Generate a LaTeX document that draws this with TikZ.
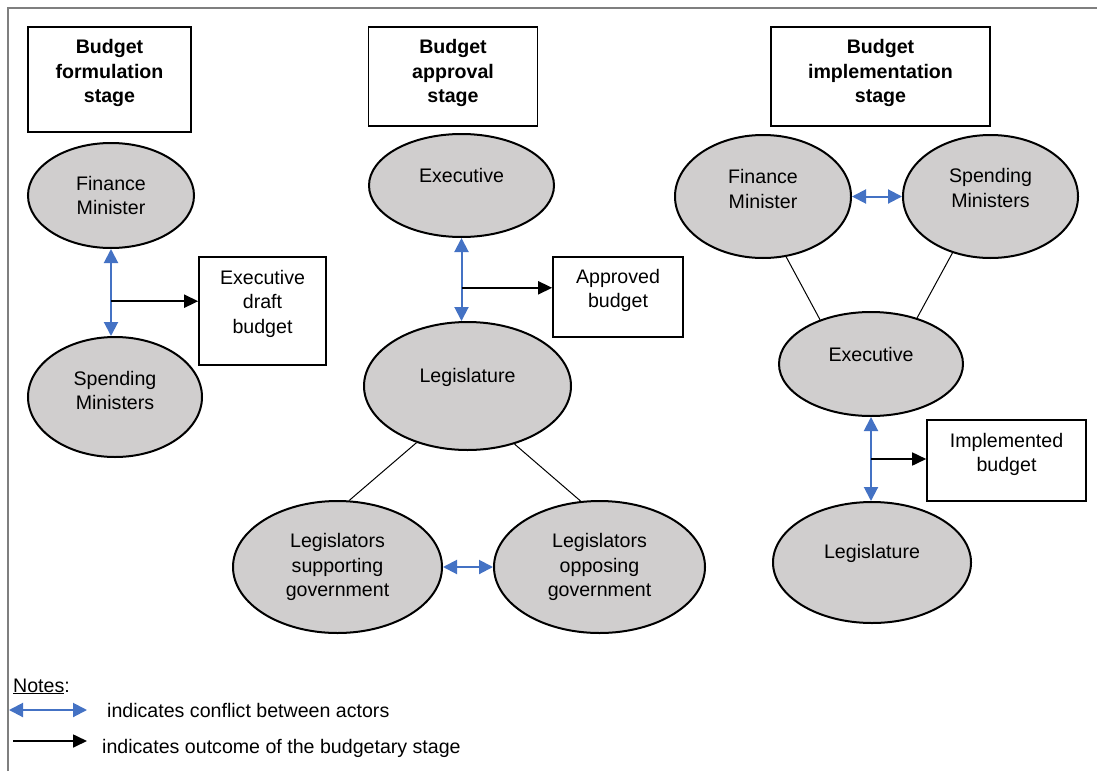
\documentclass[tikz,border=0pt]{standalone}
\usepackage{fontspec}
\setmainfont{Liberation Sans}
\usepackage[]{xcolor}
\usetikzlibrary{shapes.geometric, arrows.meta, positioning}

\definecolor{actorgray}{HTML}{D0CECE}
\definecolor{conflictblue}{HTML}{4472C4}
\definecolor{framegray}{HTML}{7F7F7F}

\begin{document}
\begin{tikzpicture}[
            x=1pt, y=-1pt,
            font=\fontsize{19.6}{24.5}\selectfont,
            stage/.style={rectangle, draw, line width=1.6pt, align=center, font=\fontsize{19.6}{24.5}\selectfont\bfseries},
            actor/.style={ellipse, draw, line width=2pt, fill=actorgray, align=center, inner sep=0pt},
            result/.style={rectangle, draw, line width=1.6pt, align=center},
            lift/.style={text depth=#1},
            conflict/.style={{Triangle[length=14pt, width=14pt]}-{Triangle[length=14pt, width=14pt]}, line width=2pt, conflictblue},
            outcome/.style={-{Triangle[length=14pt, width=13pt]}, line width=1.7pt},
            link/.style={line width=1pt},
            key/.style={anchor=base west, inner sep=0pt}
        ]
            \useasboundingbox (0,0) rectangle (1097,771);
            \draw[framegray, line width=2pt] (8,771) -- (8,8) -- (1097,8);

            % formulation stage
            \node[stage, minimum width=163pt, minimum height=105pt, lift=17pt] (form) at (109.5,79.5) {Budget\\formulation\\stage};
            \node[actor, minimum width=166pt, minimum height=105pt] (fm1) at (111,195.5) {Finance\\Minister};
            \node[actor, minimum width=174pt, minimum height=120pt, lift=13pt] (sm1) at (115,397) {Spending\\Ministers};
            \node[result, minimum width=127pt, minimum height=108pt, lift=19pt] (draft) at (262.5,311) {Executive\\draft\\budget};

            \draw[conflict] (fm1.south) -- coordinate[pos=0.6] (c1) (fm1.south |- sm1.north);
            \draw[outcome] (c1) -- (c1 -| draft.west);

            % approval stage
            \node[stage, minimum width=169pt, minimum height=99pt, lift=11pt] (appr) at (453,76.5) {Budget\\approval\\stage};
            \node[actor, minimum width=185pt, minimum height=103pt, lift=21pt] (ex2) at (461.5,185.5) {Executive};
            \node[actor, minimum width=207pt, minimum height=128pt, lift=22pt] (leg2) at (467.5,386) {Legislature};
            \node[result, minimum width=130pt, minimum height=80pt, lift=17pt] (approved) at (618,297) {Approved\\budget};
            \node[actor, minimum width=209pt, minimum height=132pt] (sup) at (337.5,567) {Legislators\\supporting\\government};
            \node[actor, minimum width=211pt, minimum height=132pt, right=50pt of sup] (opp) {Legislators\\opposing\\government};

            \draw[conflict] (ex2.south) -- coordinate[pos=0.6] (c2) (ex2.south |- leg2.north);
            \draw[outcome] (c2) -- (c2 -| approved.west);
            \draw[conflict] (sup) -- (opp);
            \draw[link] (leg2.228) -- (sup.80);
            \draw[link] (leg2.309) -- (opp.106);

            % implementation stage
            \node[stage, minimum width=219pt, minimum height=99pt, lift=11pt] (impl) at (880.5,76.5) {Budget\\implementation\\stage};
            \node[actor, minimum width=176pt, minimum height=123pt, lift=15pt] (fm3) at (763,196.5) {Finance\\Minister};
            \node[actor, minimum width=175pt, minimum height=123pt, lift=17pt, right=50pt of fm3] (sm3) {Spending\\Ministers};
            \node[actor, minimum width=184pt, minimum height=104pt, lift=20pt] (ex3) at (871,364) {Executive};
            \node[actor, minimum width=198pt, minimum height=121pt, lift=23pt] (leg3) at (872,562.5) {Legislature};
            \node[result, minimum width=159pt, minimum height=81pt, lift=16pt] (implemented) at (1006.5,460.5) {Implemented\\budget};

            \draw[conflict] (fm3) -- (sm3);
            \draw[link] (fm3.291) -- (ex3.139);
            \draw[link] (sm3.236) -- (ex3.45);
            \draw[conflict] (ex3.south) -- coordinate[pos=0.5] (c3) (ex3.south |- leg3.north);
            \draw[outcome] (c3) -- (c3 -| implemented.west);

            % notes
            \node[key] (notes) at (13,692) {\underline{Notes}:};
            \coordinate (k1a) at (9,710);
            \coordinate (k1b) at (87,710);
            \draw[conflict] (k1a) -- (k1b);
            \node[key] (k1) at (107,717) {indicates conflict between actors};
            \coordinate (k2a) at (13,741);
            \coordinate (k2b) at (87,741);
            \draw[outcome] (k2a) -- (k2b);
            \node[key] (k2) at (102,753) {indicates outcome of the budgetary stage};
        \end{tikzpicture}
\end{document}
